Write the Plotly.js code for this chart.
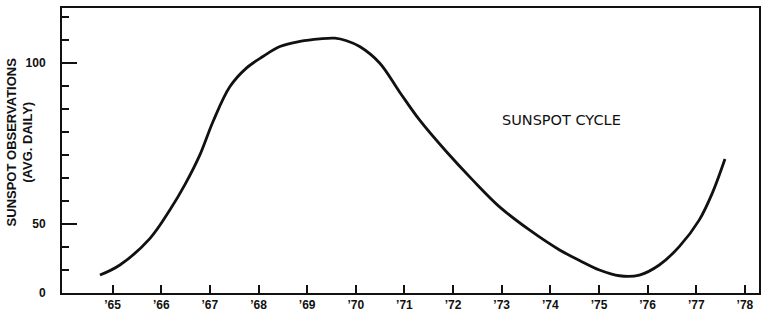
<!DOCTYPE html>
<html>
<head>
<meta charset="utf-8">
<script src="https://cdn.plot.ly/plotly-3.0.1.min.js"></script>
<style>html,body{margin:0;padding:0;background:#fff;}#chart{width:761px;height:315px;}</style>
</head>
<body>
<div id="chart"></div>
<script>
// Years (decimal) and average daily sunspot observations
const years = [1964.74, 1965.15, 1965.77, 1966.18, 1966.49, 1966.79, 1967.07, 1967.41, 1967.75,
  1968.09, 1968.44, 1968.85, 1969.26, 1969.57, 1969.81, 1970.08, 1970.49, 1970.90, 1971.31,
  1971.86, 1972.40, 1972.95, 1973.57, 1974.19, 1974.60, 1975.01, 1975.42, 1975.83, 1976.24,
  1976.65, 1977.06, 1977.33, 1977.59];
const observations = [13.0, 20.3, 39.6, 54.4, 62.3, 71.3, 82.0, 92.6, 98.4,
  102.0, 105.1, 106.7, 107.5, 107.7, 106.9, 105.1, 100.0, 91.0, 82.3,
  72.5, 63.7, 55.4, 45.7, 31.2, 23.6, 16.7, 12.5, 13.0, 20.3,
  33.6, 51.2, 59.6, 70.2];

const yTickValues = [0, 50, 100];
const xTickYears = [1965, 1966, 1967, 1968, 1969, 1970, 1971, 1972, 1973, 1974, 1975, 1976, 1977, 1978];
const xTickLabels = ['\u201965', '\u201966', '\u201967', '\u201968', '\u201969', '\u201970', '\u201971',
  '\u201972', '\u201973', '\u201974', '\u201975', '\u201976', '\u201977', '\u201978'];
const chartLabel = 'SUNSPOT CYCLE';

// The original vertical scale is not uniform: the "50" mark sits 3 tick-steps above 0,
// and "100" sits 7 tick-steps above "50". Map values onto that drawn scale.
function toAxis(v) {
  return v <= 50 ? v * 30 / 50 : 30 + (v - 50) * 70 / 50;
}

const trace = {
  x: years,
  y: observations.map(toAxis),
  type: 'scatter',
  mode: 'lines',
  line: {color: '#111', width: 2.8, shape: 'spline', smoothing: 1},
  hoverinfo: 'skip'
};

const layout = {
  width: 761, height: 315,
  margin: {l: 62, r: 2, t: 8, b: 22},
  paper_bgcolor: '#fff', plot_bgcolor: '#fff',
  showlegend: false,
  xaxis: {
    range: [1963.96, 1978.29],
    tickmode: 'array', tickvals: xTickYears, ticktext: xTickLabels,
    ticks: 'inside', ticklen: 8, tickwidth: 2, tickcolor: '#111',
    showline: true, linewidth: 2, linecolor: '#111', mirror: true,
    showgrid: false, zeroline: false,
    tickfont: {family: 'Liberation Sans, Arial, sans-serif', size: 12, color: '#111', weight: 'bold'}
  },
  yaxis: {
    range: [0, 123.9],
    tickmode: 'array', tickvals: yTickValues.map(toAxis), ticktext: yTickValues.map(String),
    ticks: 'inside', ticklen: 15, tickwidth: 2, tickcolor: '#111',
    minor: {ticks: 'inside', ticklen: 7, tickwidth: 2, tickcolor: '#111', tickmode: 'linear', tick0: 0, dtick: 10, showgrid: false},
    ticklabelstandoff: 12,
    showline: true, linewidth: 2, linecolor: '#111', mirror: true,
    showgrid: false, zeroline: false,
    tickfont: {family: 'Liberation Sans Narrow, Liberation Sans, Arial, sans-serif', size: 12, color: '#111', weight: 'bold'}
  },
  annotations: [
    {
      text: 'SUNSPOT OBSERVATIONS<br>(AVG. DAILY)',
      xref: 'paper', yref: 'paper', x: -0.061, y: 0.53,
      xanchor: 'center', yanchor: 'middle', textangle: -90, showarrow: false,
      font: {family: 'Liberation Sans, Arial, sans-serif', size: 13, color: '#111', weight: 'bold'}
    },
    {
      text: chartLabel,
      xref: 'paper', yref: 'paper', x: 0.716, y: 0.607,
      xanchor: 'center', yanchor: 'middle', showarrow: false,
      font: {family: 'DejaVu Sans, sans-serif', size: 14.5, color: '#111'}
    }
  ]
};

Plotly.newPlot('chart', [trace], layout, {staticPlot: true, displayModeBar: false});
</script>
</body>
</html>
